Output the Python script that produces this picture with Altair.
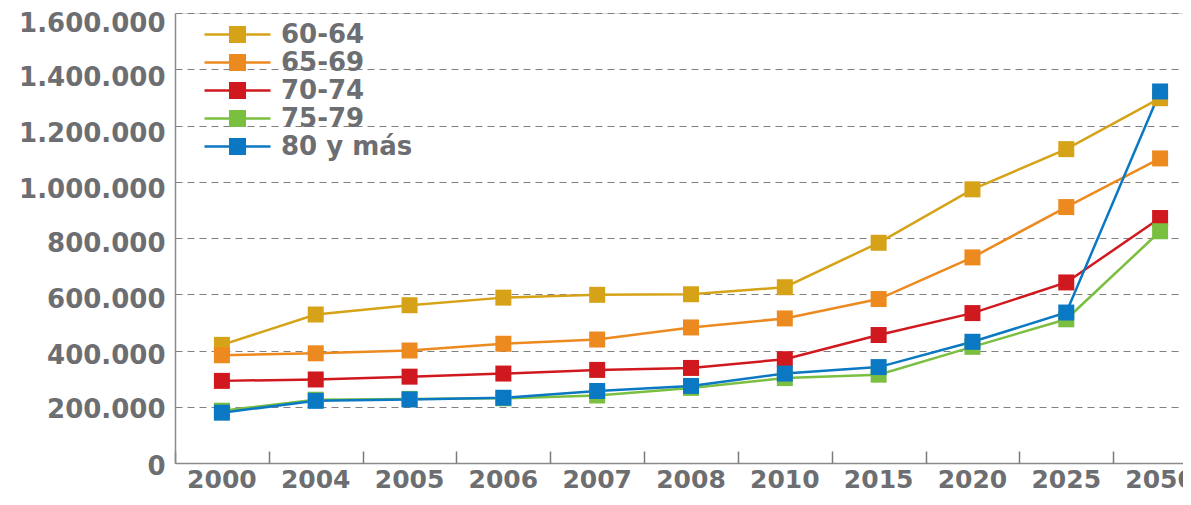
import altair as alt
import pandas as pd

years = ["2000", "2004", "2005", "2006", "2007", "2008", "2010", "2015", "2020", "2025", "2050"]
series = ["60-64", "65-69", "70-74", "75-79", "80 y más"]
colors = ["#d6a318", "#ec8a20", "#d0181f", "#7bbf40", "#0a78c2"]

v_60_64 = [420000, 528000, 561000, 588000, 598000, 600000, 625000, 783000, 973000, 1116000, 1297000]
v_65_69 = [383000, 390000, 400000, 424000, 439000, 482000, 514000, 583000, 731000, 910000, 1083000]
v_70_74 = [292000, 297000, 307000, 318000, 331000, 338000, 369000, 455000, 533000, 642000, 871000]
v_75_79 = [186000, 225000, 228000, 230000, 240000, 267000, 302000, 314000, 413000, 511000, 824000]
v_80 = [179000, 221000, 226000, 232000, 256000, 274000, 318000, 341000, 431000, 535000, 1321000]

y_ticks = [0, 200000, 400000, 600000, 800000, 1000000, 1200000, 1400000, 1600000]

rows = []
for name, vals in zip(series, [v_60_64, v_65_69, v_70_74, v_75_79, v_80]):
    for yr, v in zip(years, vals):
        rows.append({"year": yr, "serie": name, "valor": v, "order": series.index(name)})
df = pd.DataFrame(rows)

GRAY = "#6d6e71"
FONT = "DejaVu Sans"
H = 450
W = 1008
XRANGE = 1032

color = alt.Color(
    "serie:N",
    scale=alt.Scale(domain=series, range=colors),
    legend=alt.Legend(
        title=None,
        orient="none",
        legendX=48,
        legendY=7,
        symbolType="M-2.5,0H2.5M-0.55,-0.55H0.55V0.55H-0.55Z",
        symbolSize=697,
        symbolStrokeWidth=2.5,
        labelFont=FONT,
        labelFontWeight="bold",
        labelFontSize=26,
        labelColor=GRAY,
        labelOffset=29,
        rowPadding=0,
        padding=0,
    ),
)

yenc = alt.Y(
    "valor:Q",
    scale=alt.Scale(domain=[0, 1600000], nice=False),
    axis=alt.Axis(
        values=y_ticks,
        title=None,
        ticks=False,
        labelExpr="replace(format(datum.value, ','), regexp(',', 'g'), '.')",
        labelFont=FONT,
        labelFontWeight="bold",
        labelFontSize=26,
        labelColor=GRAY,
        labelPadding=10,
        labelOffset={
            "condition": [
                {"test": "datum.value >= 1500000", "value": 10},
                {"test": "datum.value >= 900000", "value": 8},
                {"test": "datum.value >= 300000", "value": 5},
            ],
            "value": 3,
        },
        domainColor="#8a8a8a",
        domainWidth=1.5,
        grid=True,
        gridColor="#808080",
        gridDash=[7, 5],
        gridWidth=1,
    ),
)

xscale = alt.Scale(type="band", paddingInner=0, paddingOuter=0, range=[0, XRANGE])

lines = alt.Chart(df).mark_line(strokeWidth=2.5).encode(
    x=alt.X(
        "year:O",
        sort=years,
        bandPosition=0.5,
        scale=xscale,
        axis=alt.Axis(
            title=None,
            labelAngle=0,
            ticks=False,
            labelFont=FONT,
            labelFontWeight="bold",
            labelFontSize=25,
            labelColor=GRAY,
            labelPadding=4,
            domainColor="#8a8a8a",
            domainWidth=1.5,
        ),
    ),
    y=yenc,
    color=color,
    order=alt.Order("order:Q"),
)

points = alt.Chart(df).mark_point(shape="square", filled=True, size=256, opacity=1).encode(
    x=alt.X(
        "year:O",
        sort=years,
        bandPosition=0.5,
        scale=xscale,
        axis=alt.Axis(
            orient="top",
            offset=-H,
            title=None,
            labels=False,
            domain=False,
            ticks=True,
            tickBand="extent",
            tickSize=12,
            tickColor="#7a7a7a",
            tickWidth=1.5,
        ),
    ),
    y=yenc,
    color=color,
    order=alt.Order("order:Q"),
)

chart = (
    alt.layer(lines, points)
    .resolve_axis(x="independent")
    .properties(
        width=W,
        height=H,
        padding={"left": 167, "top": 5, "right": 0, "bottom": 34},
        autosize=alt.AutoSizeParams(type="none"),
    )
    .configure_view(stroke=None)
    .configure(background="white")
)

chart.save("out.html", embed_options={"renderer": "svg", "actions": False})
